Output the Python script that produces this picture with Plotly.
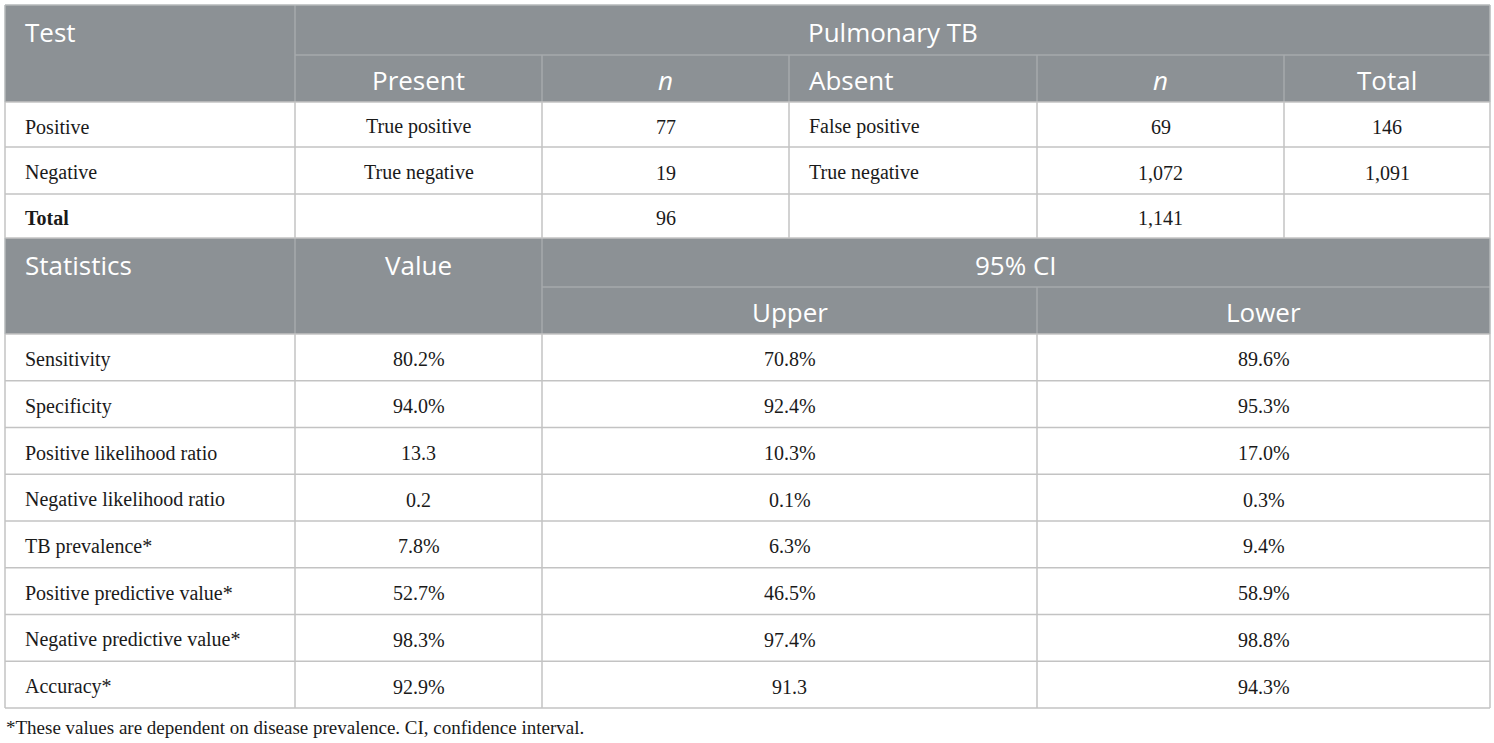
import plotly.graph_objects as go

# --- table content ---
test_rows = ["Positive", "Negative", "Total"]
present_labels = ["True positive", "True negative", ""]
present_n = ["77", "19", "96"]
absent_labels = ["False positive", "True negative", ""]
absent_n = ["69", "1,072", "1,141"]
row_totals = ["146", "1,091", ""]

stat_names = [
    "Sensitivity",
    "Specificity",
    "Positive likelihood ratio",
    "Negative likelihood ratio",
    "TB prevalence*",
    "Positive predictive value*",
    "Negative predictive value*",
    "Accuracy*",
]
stat_values = ["80.2%", "94.0%", "13.3", "0.2", "7.8%", "52.7%", "98.3%", "92.9%"]
ci_upper = ["70.8%", "92.4%", "10.3%", "0.1%", "6.3%", "46.5%", "97.4%", "91.3"]
ci_lower = ["89.6%", "95.3%", "17.0%", "0.3%", "9.4%", "58.9%", "98.8%", "94.3%"]

footnote = "*These values are dependent on disease prevalence. CI, confidence interval."

# --- geometry (pixels) ---
W, H = 1494, 743
cols = [5, 295, 542, 789, 1037, 1284, 1490]
top_rows = [5, 55, 102, 147, 194, 238]
stat_head = [238, 287, 334]
table_bottom = 708
row_h = (table_bottom - stat_head[-1]) / len(stat_names)
stat_rows = [stat_head[-1] + i * row_h for i in range(len(stat_names) + 1)]

HEAD_BG = "#8c9195"
HEAD_LINE = "#a6aaad"
BODY_LINE = "#c3c3c3"
HEAD_FONT = dict(family="Open Sans", size=26, color="white")
BODY_FONT = dict(family="Liberation Serif", size=20, color="#1a1a1a")
PAD = 18

fig = go.Figure()
shapes = []
annotations = []


def rect(x0, y0, x1, y1, fill):
    shapes.append(dict(type="rect", xref="x", yref="y", x0=x0, y0=y0, x1=x1, y1=y1,
                       fillcolor=fill, line=dict(width=0), layer="below"))


def line(x0, y0, x1, y1, color, w=1.5):
    shapes.append(dict(type="line", xref="x", yref="y", x0=x0, y0=y0, x1=x1, y1=y1,
                       line=dict(color=color, width=w)))


def text(x, y, s, font, anchor="center"):
    annotations.append(dict(x=x, y=y, xref="x", yref="y", text=s, showarrow=False,
                            xanchor=anchor, yanchor="middle", font=font))


def mid(a, b):
    return (a + b) / 2


# header blocks
rect(cols[0], top_rows[0], cols[-1], top_rows[2], HEAD_BG)
rect(cols[0], stat_head[0], cols[-1], stat_head[2], HEAD_BG)

# header inner lines (top block)
line(cols[1], top_rows[0], cols[1], top_rows[2], HEAD_LINE)
line(cols[1], top_rows[1], cols[-1], top_rows[1], HEAD_LINE)
for c in cols[2:-1]:
    line(c, top_rows[1], c, top_rows[2], HEAD_LINE)

# header inner lines (stats block)
line(cols[1], stat_head[0], cols[1], stat_head[2], HEAD_LINE)
line(cols[2], stat_head[0], cols[2], stat_head[2], HEAD_LINE)
line(cols[2], stat_head[1], cols[-1], stat_head[1], HEAD_LINE)
line(cols[4], stat_head[1], cols[4], stat_head[2], HEAD_LINE)

# body grid, top block
for r in top_rows[2:]:
    line(cols[0], r, cols[-1], r, BODY_LINE)
for c in cols:
    line(c, top_rows[2], c, top_rows[-1], BODY_LINE)

# body grid, stats block
for r in stat_rows:
    line(cols[0], r, cols[-1], r, BODY_LINE)
for c in [cols[0], cols[1], cols[2], cols[4], cols[-1]]:
    line(c, stat_rows[0], c, stat_rows[-1], BODY_LINE)

# outer frame of header blocks
line(cols[0], top_rows[0], cols[-1], top_rows[0], "#b5b8ba")
line(cols[0], top_rows[0], cols[0], top_rows[2], "#b5b8ba")
line(cols[-1], top_rows[0], cols[-1], top_rows[2], "#b5b8ba")
line(cols[0], stat_head[0], cols[0], stat_head[2], "#b5b8ba")
line(cols[-1], stat_head[0], cols[-1], stat_head[2], "#b5b8ba")

# header text, top block
hy1 = mid(top_rows[0], top_rows[1]) + 2
hy2 = mid(top_rows[1], top_rows[2]) + 1
text(cols[0] + PAD, hy1, "Test", HEAD_FONT, "left")
text(mid(cols[1], cols[-1]), hy1, "Pulmonary TB", HEAD_FONT)
text(mid(cols[1], cols[2]), hy2, "Present", HEAD_FONT)
text(mid(cols[2], cols[3]), hy2, "<i>n</i>", HEAD_FONT)
text(cols[3] + PAD, hy2, "Absent", HEAD_FONT, "left")
text(mid(cols[4], cols[5]), hy2, "<i>n</i>", HEAD_FONT)
text(mid(cols[5], cols[6]), hy2, "Total", HEAD_FONT)

# body text, top block
for i, name in enumerate(test_rows):
    y = mid(top_rows[2 + i], top_rows[3 + i]) + 2
    label = "<b>%s</b>" % name if name == "Total" else name
    text(cols[0] + PAD, y, label, BODY_FONT, "left")
    text(mid(cols[1], cols[2]), y, present_labels[i], BODY_FONT)
    text(mid(cols[2], cols[3]), y, present_n[i], BODY_FONT)
    text(cols[3] + PAD, y, absent_labels[i], BODY_FONT, "left")
    text(mid(cols[4], cols[5]), y, absent_n[i], BODY_FONT)
    text(mid(cols[5], cols[6]), y, row_totals[i], BODY_FONT)

# header text, stats block
sy1 = mid(stat_head[0], stat_head[1]) + 2
sy2 = mid(stat_head[1], stat_head[2]) + 1
text(cols[0] + PAD, sy1, "Statistics", HEAD_FONT, "left")
text(mid(cols[1], cols[2]), sy1, "Value", HEAD_FONT)
text(mid(cols[2], cols[-1]), sy1, "95% CI", HEAD_FONT)
text(mid(cols[2], cols[4]), sy2, "Upper", HEAD_FONT)
text(mid(cols[4], cols[-1]), sy2, "Lower", HEAD_FONT)

# body text, stats block
for i, name in enumerate(stat_names):
    y = mid(stat_rows[i], stat_rows[i + 1]) + 2
    text(cols[0] + PAD, y, name, BODY_FONT, "left")
    text(mid(cols[1], cols[2]), y, stat_values[i], BODY_FONT)
    text(mid(cols[2], cols[4]), y, ci_upper[i], BODY_FONT)
    text(mid(cols[4], cols[-1]), y, ci_lower[i], BODY_FONT)

text(cols[0] - 1, 727, footnote, dict(family="Liberation Serif", size=19, color="#1a1a1a"), "left")

fig.update_layout(
    width=W,
    height=H,
    margin=dict(l=0, r=0, t=0, b=0),
    xaxis=dict(range=[0, W], visible=False, fixedrange=True),
    yaxis=dict(range=[H, 0], visible=False, fixedrange=True),
    plot_bgcolor="white",
    paper_bgcolor="white",
    shapes=shapes,
    annotations=annotations,
    showlegend=False,
)

fig.write_html("out.html", config={"displayModeBar": False},
               post_script="document.body.style.margin='0';")
